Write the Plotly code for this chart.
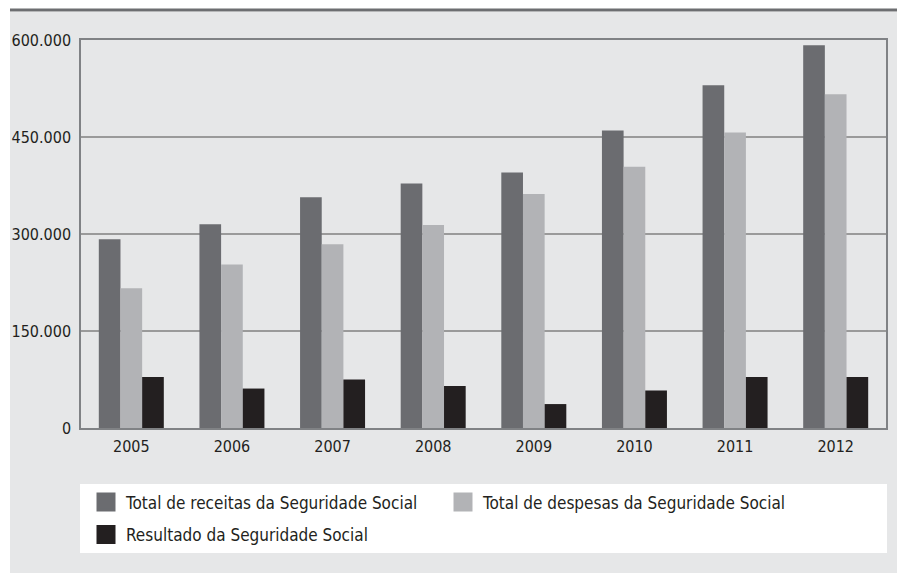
import plotly.graph_objects as go

years = ["2005", "2006", "2007", "2008", "2009", "2010", "2011", "2012"]
receitas = [292000, 315000, 357000, 378000, 395000, 460000, 530000, 592000]
despesas = [216000, 253000, 284000, 314000, 362000, 404000, 457000, 516000]
resultado = [79000, 61000, 75000, 65000, 37000, 58000, 79000, 79000]

series_names = [
    "Total de receitas da Seguridade Social",
    "Total de despesas da Seguridade Social",
    "Resultado da Seguridade Social",
]
colors = ["#6b6c70", "#b2b3b6", "#231f20"]
legend_ids = ["legend", "legend", "legend2"]

y_tickvals = [0, 150000, 300000, 450000, 600000]
y_ticktext = ["0", "150.000", "300.000", "450.000", "600.000"]

FONT = "Liberation Sans Narrow, DejaVu Sans Condensed, Arial Narrow, sans-serif"

fig = go.Figure()
for name, vals, col in zip(series_names, [receitas, despesas, resultado], colors):
    fig.add_trace(go.Bar(x=years, y=vals, name=name, marker=dict(color=col, line=dict(width=0)),
                         showlegend=False))
# legend entries
for name, col, lg in zip(series_names, colors, legend_ids):
    fig.add_trace(go.Scatter(x=[None], y=[None], mode="markers", name=name, legend=lg,
                             marker=dict(symbol="square", size=16, color=col,
                                         line=dict(color=col, width=3)),
                             showlegend=True))

# page has an 8px body margin: figure origin sits at (8, 8) in the window
OFF = 8
W, H = 905 - OFF, 573 - OFF
L, R, T, B = 81 - OFF, 19, 40 - OFF, 573 - 428
pw, ph = W - L - R, H - T - B

def px(x):  # window x -> paper
    return (x - OFF - L) / pw

def py(y):  # window y -> paper
    return 1 - (y - OFF - T) / ph

shapes = [
    dict(type="rect", xref="paper", yref="paper", x0=px(10), x1=px(910), y0=py(580), y1=py(12),
         fillcolor="#e6e7e8", line=dict(width=0), layer="below"),
    dict(type="line", xref="paper", yref="paper", x0=px(10), x1=px(910), y0=py(10), y1=py(10),
         line=dict(color="#6d6e71", width=3)),
    dict(type="rect", xref="paper", yref="paper", x0=px(80), x1=px(887), y0=py(553), y1=py(484),
         fillcolor="#ffffff", line=dict(width=0), layer="below"),
]

legend_font = dict(family=FONT, size=17, color="#231f20")

fig.update_layout(
    width=W, height=H,
    margin=dict(l=L, r=R, t=T, b=B, autoexpand=False),
    paper_bgcolor="#ffffff",
    plot_bgcolor="#ffffff",
    barmode="group",
    bargap=0.354,
    bargroupgap=0,
    font=dict(family=FONT, color="#231f20"),
    shapes=shapes,
    showlegend=True,
    legend=dict(
        orientation="h",
        x=px(86), y=py(502.5), xanchor="left", yanchor="middle",
        bgcolor="rgba(0,0,0,0)",
        font=legend_font,
        entrywidth=312, entrywidthmode="pixels",
        traceorder="normal",
    ),
    legend2=dict(
        orientation="h",
        x=px(86), y=py(535), xanchor="left", yanchor="middle",
        bgcolor="rgba(0,0,0,0)",
        font=legend_font,
    ),
)
fig.update_xaxes(
    type="category",
    showgrid=False,
    showline=True, linecolor="#808285", linewidth=1.5, mirror=True,
    ticks="", ticklabelstandoff=3,
    tickfont=dict(family=FONT, size=16, color="#231f20"),
    fixedrange=True,
)
fig.update_yaxes(
    range=[0, 600000],
    tickvals=y_tickvals, ticktext=y_ticktext,
    showgrid=True, gridcolor="#9a9a9a", gridwidth=1.5,
    showline=True, linecolor="#808285", linewidth=1.5, mirror=True,
    zeroline=False,
    ticks="", ticklabelstandoff=5,
    tickfont=dict(family=FONT, size=16, color="#231f20"),
    fixedrange=True,
)

fig.write_html("out.html")
